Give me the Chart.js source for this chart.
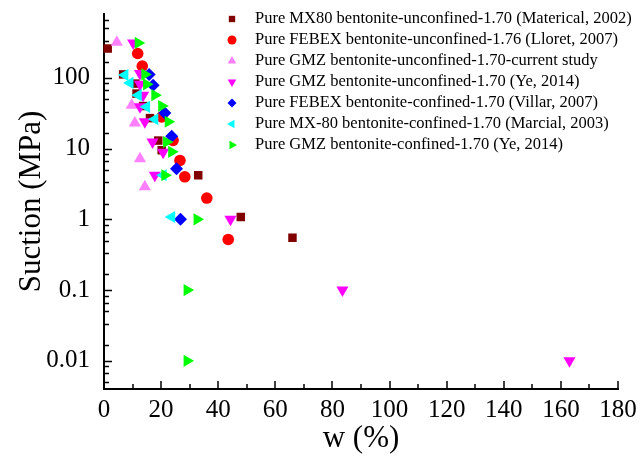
<!DOCTYPE html>
<html>
<head>
<meta charset="utf-8">
<script src="https://cdn.jsdelivr.net/npm/chart.js@4.4.0/dist/chart.umd.min.js"></script>
<style>
html, body { margin: 0; padding: 0; background: #fff; }
</style>
</head>
<body>
<canvas id="chart" width="644" height="459"></canvas>
<script>
// series data: water content w (%) and suction (MPa)
const mx80UnconfinedW = [1.3, 6.7, 11, 11.4, 13.7, 16.1, 19, 20.2, 33, 47.9, 66];
const mx80UnconfinedS = [260, 112, 83, 60, 40, 27, 13, 9.5, 4.2, 1.08, 0.55];

const febexUnconfinedW = [11.8, 13.4, 20.2, 24.2, 26.6, 28.3, 36, 43.5];
const febexUnconfinedS = [221, 147, 28, 13.1, 6.8, 4.0, 2.0, 0.52];

const gmzCurrentW = [4.5, 9.7, 10.8, 12.6, 14.3];
const gmzCurrentS = [319, 41, 23, 7.2, 2.9];

const gmzYeUnconfinedW = [10.2, 12.6, 12.6, 13.7, 12.6, 14.3, 17, 20.7, 17.8, 44.3, 83.5, 163];
const gmzYeUnconfinedS = [312, 115, 81, 57, 39, 24, 12.4, 8.9, 4.2, 1.0, 0.1, 0.01];

const febexConfinedW = [15.8, 17.2, 21.3, 23.7, 25.4, 26.8];
const febexConfinedS = [112, 79, 32, 15, 5.2, 1.0];

const mx80ConfinedW = [7.3, 9.1, 12, 14.9, 17.8, 20.7, 23.7];
const mx80ConfinedS = [110, 85, 57, 39, 26, 4.2, 1.08];

const gmzYeConfinedW = [12, 14.3, 14.9, 17.8, 20.2, 22.5, 21.9, 23.7, 21.3, 32.6, 29.1, 29.1];
const gmzYeConfinedS = [312, 112, 81, 57, 40, 24, 12.4, 9, 4.2, 1.0, 0.1, 0.01];

const seriesLabels = [
    'Pure MX80 bentonite-unconfined-1.70 (Materical, 2002)',
    'Pure FEBEX bentonite-unconfined-1.76 (Lloret, 2007)',
    'Pure GMZ bentonite-unconfined-1.70-current study',
    'Pure GMZ bentonite-unconfined-1.70 (Ye, 2014)',
    'Pure FEBEX bentonite-confined-1.70 (Villar, 2007)',
    'Pure MX-80 bentonite-confined-1.70 (Marcial, 2003)',
    'Pure GMZ bentonite-confined-1.70 (Ye, 2014)'
];

const xTickValues = [0, 20, 40, 60, 80, 100, 120, 140, 160, 180];
const yTickValues = [0.01, 0.1, 1, 10, 100];
const yTickLabels = ['0.01', '0.1', '1', '10', '100'];

const serif = '"Liberation Serif", "Times New Roman", serif';

function toPoints(ws, ss) {
    return ws.map((w, i) => ({ x: w, y: ss[i] }));
}

const styles = [
    { color: '#800000', pointStyle: 'rect', rotation: 0, radius: 6 },
    { color: '#ff0000', pointStyle: 'circle', rotation: 0, radius: 5.8 },
    { color: '#ff80ff', pointStyle: 'triangle', rotation: 0, radius: 7 },
    { color: '#ff00ff', pointStyle: 'triangle', rotation: 180, radius: 7 },
    { color: '#0000ff', pointStyle: 'rectRot', rotation: 0, radius: 6.5 },
    { color: '#00ffff', pointStyle: 'triangle', rotation: 270, radius: 7 },
    { color: '#00ff00', pointStyle: 'triangle', rotation: 90, radius: 7 }
];

const seriesData = [
    toPoints(mx80UnconfinedW, mx80UnconfinedS),
    toPoints(febexUnconfinedW, febexUnconfinedS),
    toPoints(gmzCurrentW, gmzCurrentS),
    toPoints(gmzYeUnconfinedW, gmzYeUnconfinedS),
    toPoints(febexConfinedW, febexConfinedS),
    toPoints(mx80ConfinedW, mx80ConfinedS),
    toPoints(gmzYeConfinedW, gmzYeConfinedS)
];

const datasets = seriesData.map((pts, i) => ({
    label: seriesLabels[i],
    data: pts,
    backgroundColor: styles[i].color,
    borderColor: styles[i].color,
    borderWidth: 0,
    pointStyle: styles[i].pointStyle,
    rotation: styles[i].rotation,
    pointRadius: styles[i].radius,
    pointHoverRadius: styles[i].radius,
    order: seriesData.length - 1 - i,
    clip: false
}));

// inward tick marks, major and minor
const axisTicks = {
    id: 'axisTicks',
    beforeDatasetsDraw(chart) {
        const { ctx, chartArea, scales: { x, y } } = chart;
        ctx.save();
        ctx.strokeStyle = '#000';
        ctx.lineWidth = 1.5;
        ctx.beginPath();
        for (let v = 0; v <= 180; v += 10) {
            const px = Math.round(x.getPixelForValue(v));
            const len = v % 20 === 0 ? 8 : 5;
            ctx.moveTo(px, chartArea.bottom);
            ctx.lineTo(px, chartArea.bottom - len);
        }
        const decades = [0.001, 0.01, 0.1, 1, 10, 100, 1000];
        decades.forEach(top => {
            for (let k = 1; k <= 6; k++) {
                const v = top * k / 6;
                if (v < y.min || v > y.max) continue;
                const py = Math.round(y.getPixelForValue(v)) + 0.5;
                const len = k === 6 ? 8 : 5;
                ctx.moveTo(chartArea.left, py);
                ctx.lineTo(chartArea.left + len, py);
            }
        });
        ctx.stroke();
        ctx.restore();
    }
};

// legend drawn inside the plot, top right
const markerLegend = {
    id: 'markerLegend',
    afterDraw(chart) {
        const { ctx } = chart;
        const x0 = 232, textX = 255, y0 = 19, rowH = 21;
        ctx.save();
        chart.data.datasets.forEach((ds, i) => {
            const yy = y0 + i * rowH;
            ctx.fillStyle = ds.backgroundColor;
            ctx.strokeStyle = ds.backgroundColor;
            Chart.helpers.drawPoint(ctx, {
                pointStyle: ds.pointStyle,
                rotation: ds.rotation,
                radius: ds.pointStyle === 'triangle' ? 5 : 4.5,
                borderWidth: 0
            }, x0, yy);
            ctx.fillStyle = '#000';
            ctx.font = '16.5px ' + serif;
            ctx.textBaseline = 'middle';
            ctx.textAlign = 'left';
            ctx.fillText(ds.label, textX, yy);
        });
        ctx.restore();
    }
};

new Chart(document.getElementById('chart'), {
    type: 'scatter',
    data: { datasets },
    options: {
        responsive: false,
        animation: false,
        events: [],
        layout: { padding: { top: 14, right: 26, left: 0, bottom: 0 } },
        plugins: {
            legend: { display: false },
            tooltip: { enabled: false }
        },
        scales: {
            x: {
                type: 'linear',
                min: 0,
                max: 180,
                afterFit: (scale) => {
                    scale.height = 70;
                    scale.paddingLeft = 0;
                    scale.paddingRight = 0;
                },
                afterBuildTicks: (scale) => { scale.ticks = xTickValues.map(v => ({ value: v })); },
                grid: { display: false, drawTicks: false },
                border: { display: true, color: '#000', width: 2 },
                ticks: {
                    color: '#000',
                    padding: 6,
                    maxRotation: 0,
                    autoSkip: false,
                    font: { family: serif, size: 25 }
                },
                title: {
                    display: true,
                    text: 'w (%)',
                    color: '#000',
                    padding: { top: 0, bottom: 2 },
                    font: { family: serif, size: 31 }
                }
            },
            y: {
                type: 'logarithmic',
                min: 0.004,
                max: 800,
                afterFit: (scale) => {
                    scale.width = 104;
                    scale.paddingTop = 0;
                    scale.paddingBottom = 0;
                },
                afterBuildTicks: (scale) => { scale.ticks = yTickValues.map(v => ({ value: v })); },
                grid: { display: false, drawTicks: false },
                border: { display: true, color: '#000', width: 2 },
                ticks: {
                    color: '#000',
                    padding: 14,
                    autoSkip: false,
                    font: { family: serif, size: 25 },
                    callback: (value) => {
                        const idx = yTickValues.indexOf(value);
                        return idx >= 0 ? yTickLabels[idx] : '';
                    }
                },
                title: {
                    display: true,
                    text: 'Suction (MPa)',
                    color: '#000',
                    padding: { top: 13, bottom: 0 },
                    font: { family: serif, size: 31 }
                }
            }
        }
    },
    plugins: [axisTicks, markerLegend]
});
</script>
</body>
</html>
